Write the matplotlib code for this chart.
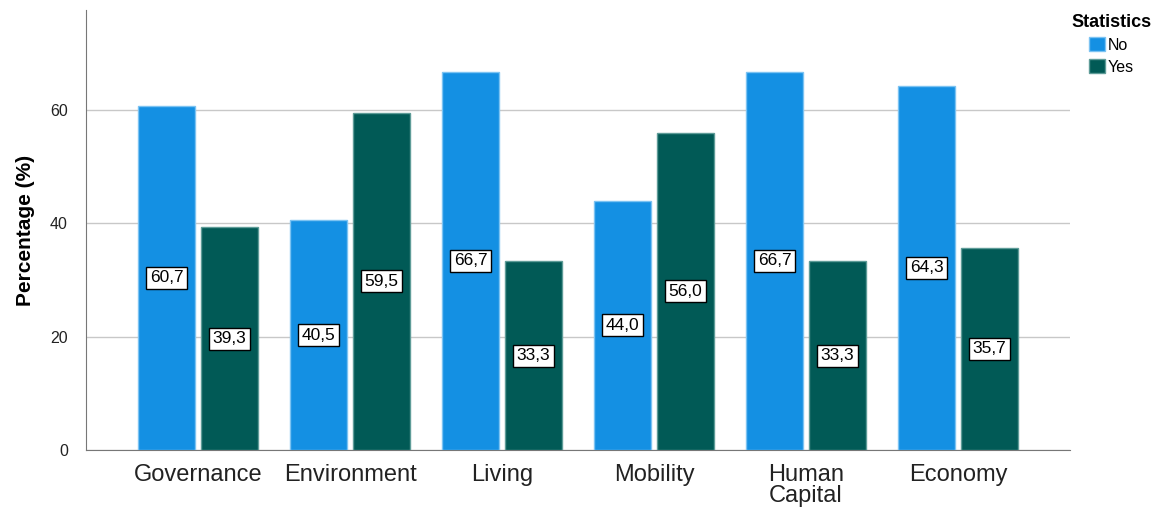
import matplotlib.pyplot as plt
import numpy as np
from matplotlib.patches import Patch

plt.rcParams['font.family'] = ['Liberation Sans', 'DejaVu Sans']

categories = ['Governance', 'Environment', 'Living', 'Mobility', 'Human\nCapital', 'Economy']
no_vals = [60.7, 40.5, 66.7, 44.0, 66.7, 64.3]
yes_vals = [39.3, 59.5, 33.3, 56.0, 33.3, 35.7]
series = ['No', 'Yes']
colors = ['#1490E3', '#015A56']
edges = ['#7CC3F2', '#5E9C98']

fig = plt.figure(figsize=(11.66, 5.09), dpi=100)
ax = fig.add_axes([0.0738, 0.116, 0.8439, 0.864])

x = np.arange(len(categories))
w = 0.375
off = 0.207
for i, (vals, c, ec) in enumerate(zip([no_vals, yes_vals], colors, edges)):
    xs = x + (off if i else -off)
    ax.bar(xs, vals, width=w, color=c, edgecolor=ec, linewidth=1, zorder=3)
    for xi, v in zip(xs, vals):
        ax.text(xi, v / 2, ('%.1f' % v).replace('.', ','), ha='center', va='center',
                fontsize=12.5, zorder=4,
                bbox=dict(facecolor='white', edgecolor='black', linewidth=1, boxstyle='square,pad=0.2'))

ax.set_xlim(-0.737, 5.737)
ax.set_ylim(0, 77.6)
ax.set_yticks([0, 20, 40, 60])
ax.set_xticks(x)
ax.set_xticklabels(categories, fontsize=17, color='#222222', linespacing=0.95)
ax.tick_params(axis='y', labelsize=11.5, length=0, pad=13, labelcolor='#222222')
ax.tick_params(axis='x', length=0, pad=10)
ax.yaxis.grid(True, color='#C8C8C8', linewidth=1, zorder=0)
ax.set_axisbelow(True)
ax.set_ylabel('Percentage (%)', fontsize=15, fontweight='bold', labelpad=11)

ax.spines['right'].set_color('none')
ax.spines['top'].set_color('none')
ax.spines['left'].set_color('#777777')
ax.spines['bottom'].set_color('#777777')

handles = [Patch(facecolor=c, edgecolor=ec) for c, ec in zip(colors, edges)]
leg = fig.legend(handles, series, title='Statistics', loc='upper left',
                 bbox_to_anchor=(0.9135, 0.985), frameon=False, fontsize=11.5,
                 handlelength=0.95, handleheight=0.95, handletextpad=0.2,
                 labelspacing=0.4, borderaxespad=0, alignment='center')
leg.get_title().set_fontweight('bold')
leg.get_title().set_fontsize(13)

fig.savefig('out.png', dpi=100)
